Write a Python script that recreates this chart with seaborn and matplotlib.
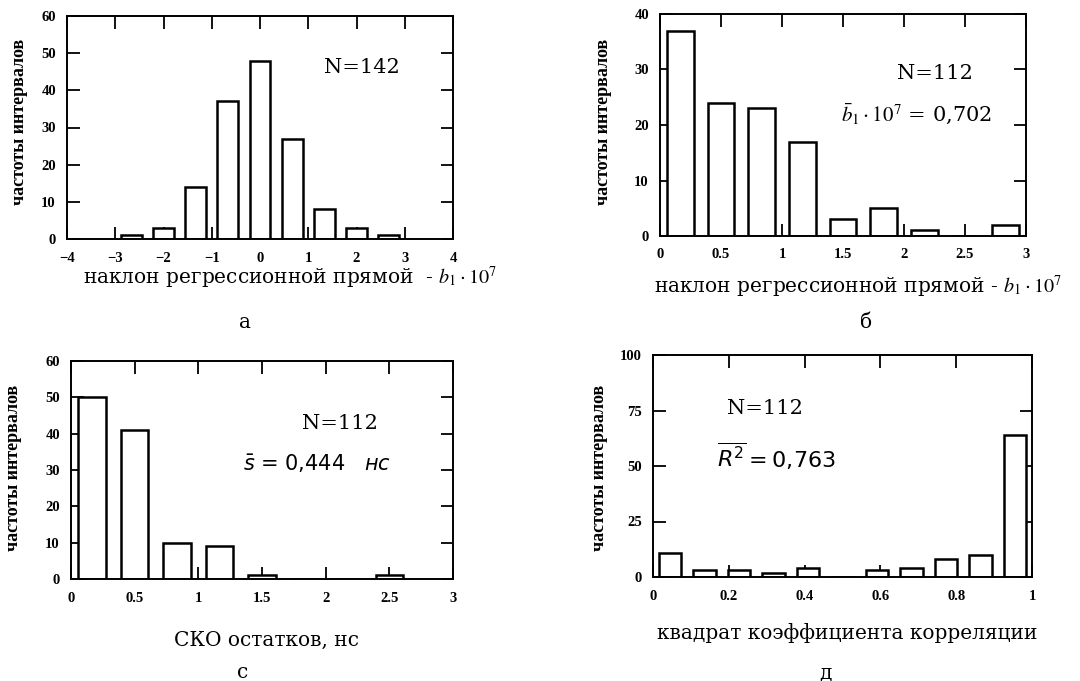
import numpy as np
import matplotlib
matplotlib.use("Agg")
import matplotlib.pyplot as plt
import seaborn as sns

# ---- data ----
a_centers = [-8/3, -2, -4/3, -2/3, 0, 2/3, 4/3, 2, 8/3]
a_counts = [1, 3, 14, 37, 48, 27, 8, 3, 1]

b_centers = [1/6, 1/2, 5/6, 7/6, 3/2, 11/6, 13/6, 5/2, 17/6]
b_counts = [37, 24, 23, 17, 3, 5, 1, 0, 2]

c_centers = [1/6, 1/2, 5/6, 7/6, 3/2, 11/6, 13/6, 5/2]
c_counts = [50, 41, 10, 9, 1, 0, 0, 1]

d_centers = [(i + 0.5) / 11 for i in range(11)]
d_counts = [11, 3, 3, 2, 4, 0, 3, 4, 8, 10, 64]

a_xticks = [-4, -3, -2, -1, 0, 1, 2, 3, 4]
b_xticks = [0, 0.5, 1, 1.5, 2, 2.5, 3]
c_xticks = [0, 0.5, 1, 1.5, 2, 2.5, 3]
d_xticks = [0, 0.2, 0.4, 0.6, 0.8, 1]
a_yticks = [0, 10, 20, 30, 40, 50, 60]
b_yticks = [0, 10, 20, 30, 40]
c_yticks = [0, 10, 20, 30, 40, 50, 60]
d_yticks = [0, 25, 50, 75, 100]

ylabel = "частоты интервалов"

sns.set_style("ticks")
plt.rcParams["font.family"] = ["Liberation Serif", "DejaVu Serif"]
plt.rcParams["mathtext.fontset"] = "stix"
for k in ["text.color", "axes.labelcolor", "xtick.color", "ytick.color",
          "axes.edgecolor"]:
    plt.rcParams[k] = "black"

SERIF = ["DejaVu Serif", "Liberation Serif"]

W, H = 1080, 681
fig = plt.figure(figsize=(W / 100, H / 100), dpi=100)


def px_axes(l, r, t, b):
    return fig.add_axes([l / W, 1 - b / H, (r - l) / W, (b - t) / H])


def tx(x, y, s, **kw):
    fig.text(x / W, 1 - y / H, s, **kw)


def draw(ax, centers, counts, width, xlim, ylim, xticks, yticks, xfmt):
    edges = [c - width / 2 for c in centers] + [centers[-1] + width / 2]
    sns.histplot(x=centers, weights=counts, bins=edges, shrink=0.65,
                 color="white", edgecolor="black", linewidth=1.8, alpha=1,
                 ax=ax)
    ax.set_xlim(*xlim)
    ax.set_ylim(*ylim)
    ax.set_xticks(xticks)
    ax.set_xticklabels([xfmt(v) for v in xticks])
    ax.set_yticks(yticks)
    ax.set_ylabel("")
    ax.set_xlabel("")
    for sp in ax.spines.values():
        sp.set_visible(True)
        sp.set_linewidth(1.4)
        sp.set_color("black")
    ax.tick_params(direction="in", top=True, right=True, length=9, width=1.3,
                   labelsize=10.5, colors="black")
    ax.tick_params(axis="x", pad=9)
    ax.tick_params(axis="y", pad=8)
    for lab in ax.get_xticklabels() + ax.get_yticklabels():
        lab.set_fontweight("bold")


def fmt_num(v):
    if float(v).is_integer():
        return str(int(v)).replace("-", "\u2212")
    return f"{v:g}"


ann = dict(fontsize=15, ha="center", va="center", family=SERIF, color="black")

# panel a
ax_a = px_axes(67, 453, 16, 239)
draw(ax_a, a_centers, a_counts, 2/3, (-4, 4), (0, 60), a_xticks, a_yticks, fmt_num)
ax_a.text(0.765, 0.77, "N=142", transform=ax_a.transAxes, **ann)

# panel b
ax_b = px_axes(660, 1026, 14, 236)
draw(ax_b, b_centers, b_counts, 1/3, (0, 3), (0, 40), b_xticks, b_yticks, fmt_num)
ax_b.text(0.75, 0.73, "N=112", transform=ax_b.transAxes, **ann)
ax_b.text(0.70, 0.55, r"$\bar{b}_1\cdot10^7$ = 0,702", transform=ax_b.transAxes,
          **ann)

# panel c
ax_c = px_axes(71, 453, 361, 579)
draw(ax_c, c_centers, c_counts, 1/3, (0, 3), (0, 60), c_xticks, c_yticks, fmt_num)
ax_c.text(0.705, 0.715, "N=112", transform=ax_c.transAxes, **ann)
ax_c.text(0.645, 0.53, r"$\bar{s}$ = 0,444   $\it{нс}$", transform=ax_c.transAxes,
          fontsize=15, ha="center", va="center", color="black",
          family=["DejaVu Sans"], math_fontfamily="dejavusans")

# panel d
ax_d = px_axes(653, 1032, 355, 577)
draw(ax_d, d_centers, d_counts, 1/11, (0, 1), (0, 100), d_xticks, d_yticks, fmt_num)
ax_d.text(0.295, 0.76, "N=112", transform=ax_d.transAxes, **ann)
ax_d.text(0.325, 0.54, r"$\overline{R^2} = 0{,}763$", transform=ax_d.transAxes,
          fontsize=16, ha="center", va="center", color="black",
          math_fontfamily="dejavusans")

# y labels
for x, y in [(20, 122), (604, 122), (14, 468), (600, 468)]:
    tx(x, y, ylabel, rotation=90, ha="center", va="center", fontsize=13,
       fontweight="bold", family=["Liberation Serif"], color="black")

lab = dict(ha="center", va="center", fontsize=14.5, family=SERIF, color="black")
# x labels
tx(290, 278, r"наклон регрессионной прямой  - $b_1\cdot 10^7$", **lab)
tx(858, 287, r"наклон регрессионной прямой - $b_1\cdot 10^7$", **lab)
tx(266, 640, "СКО остатков, нс", **lab)
tx(847, 633, "квадрат коэффициента корреляции", **lab)

# panel letters
tx(245, 323, "а", **lab)
tx(866, 323, "б", **lab)
tx(243, 673, "с", **lab)
tx(825, 673, "д", **lab)

fig.savefig("out.png", dpi=100, facecolor="white")
